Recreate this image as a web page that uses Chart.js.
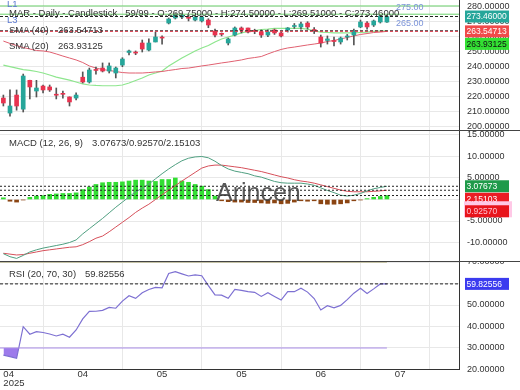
<!DOCTYPE html>
<html>
<head>
<meta charset="utf-8">
<script src="https://cdn.jsdelivr.net/npm/chart.js@4.4.1/dist/chart.umd.min.js"></script>
<style>
    html, body { margin: 0; padding: 0; background: #fff; }
    #wrap { position: relative; width: 520px; height: 390px; overflow: hidden; font-family: "Liberation Sans", Arial, sans-serif; }
    #wrap canvas { position: absolute; left: 0; }
    .txt { position: absolute; font-size: 9.5px; line-height: 11px; color: #333; white-space: pre; }
    .blue { color: #5a78d0; }
    .lvl { color: #7b93d8; font-size: 9px; }
    #watermark { position: absolute; left: 216px; top: 180px; font-size: 25px; line-height: 25px; color: rgba(60, 60, 60, 0.85); }
</style>
</head>
<body>
<div id="wrap">
    <canvas id="price-pane" width="520" height="130" style="top:0"></canvas>
    <canvas id="macd-pane" width="520" height="131" style="top:130px"></canvas>
    <canvas id="rsi-pane" width="520" height="129" style="top:261px"></canvas>

    <div class="txt blue" style="left:7px;top:-2px">L1</div>
    <div class="txt blue" style="left:7px;top:14px">L3</div>
    <div class="txt" style="left:9px;top:7px">MAR - Daily - Candlestick   59/99 - O:269.75000 - H:274.50000 - L:269.51000 - C:273.46000</div>
    <div class="txt" style="left:9px;top:24px">SMA (40)</div>
    <div class="txt" style="left:58px;top:24px">263.54713</div>
    <div class="txt" style="left:9px;top:40px">SMA (20)</div>
    <div class="txt" style="left:58px;top:40px">263.93125</div>
    <div class="txt lvl" style="left:396px;top:2px">275.00</div>
    <div class="txt lvl" style="left:396px;top:18px">265.00</div>
    <div class="txt" style="left:9px;top:137px">MACD (12, 26, 9)</div>
    <div class="txt" style="left:92px;top:137px">3.07673/0.92570/2.15103</div>
    <div class="txt" style="left:9px;top:268px">RSI (20, 70, 30)</div>
    <div class="txt" style="left:85px;top:268px">59.82556</div>
    <div id="watermark">Arincen</div>
</div>

<script>
// daily candles, one per trading day
const candleOpen = [219.1, 209.1, 221.1, 211.7, 230.9, 223.8, 227.1, 226.5, 221.5, 222.0,
    219.8, 219.1, 233.0, 229.8, 238.2, 239.1, 237.1, 235.8, 241.1, 249.5,
    249.3, 255.8, 251.1, 256.5, 259.3, 269.1, 272.5, 273.1, 272.6, 271.1,
    270.5, 271.1, 263.8, 261.9, 255.8, 261.1, 265.8, 265.8, 263.8, 263.3,
    261.1, 264.5, 262.5, 264.5, 266.8, 266.5, 269.1, 264.5, 259.8, 257.5,
    257.2, 256.5, 259.8, 261.1, 266.5, 269.1, 267.8, 269.8, 269.75];
const candleHigh = [221.1, 224.5, 224.5, 235.1, 231.0, 230.9, 227.8, 227.8, 225.8, 223.8,
    219.9, 222.5, 236.5, 239.1, 239.8, 242.5, 242.5, 239.8, 246.0, 251.1,
    250.5, 257.8, 258.5, 263.1, 260.5, 272.5, 275.5, 275.0, 274.5, 274.0,
    273.8, 272.0, 265.1, 262.5, 259.1, 266.5, 266.5, 265.8, 265.0, 264.5,
    264.5, 265.1, 263.1, 266.1, 268.8, 269.8, 270.0, 266.1, 261.1, 260.5,
    259.8, 259.8, 261.5, 265.1, 271.1, 270.1, 271.1, 274.5, 274.5];
const candleLow = [213.8, 207.1, 211.0, 209.8, 218.5, 219.8, 222.5, 223.5, 218.5, 219.0,
    213.8, 217.9, 229.1, 229.1, 235.1, 236.5, 235.8, 232.5, 240.0, 247.8,
    248.0, 249.8, 250.5, 256.5, 255.1, 268.5, 271.8, 272.0, 270.5, 270.5,
    269.8, 266.0, 259.8, 260.5, 254.5, 260.5, 262.5, 262.5, 262.0, 259.5,
    260.0, 261.5, 259.8, 263.1, 265.5, 265.1, 265.1, 262.1, 253.1, 255.1,
    253.8, 255.1, 257.8, 254.5, 266.0, 265.1, 266.8, 269.1, 269.51];
const candleClose = [215.8, 213.8, 213.8, 233.8, 226.5, 225.8, 224.5, 224.5, 221.0, 221.6,
    216.5, 221.1, 229.8, 237.8, 237.5, 237.1, 240.5, 239.1, 245.1, 250.5,
    249.1, 251.8, 255.8, 259.8, 259.1, 271.8, 274.5, 274.5, 272.3, 273.1,
    273.1, 267.8, 261.1, 261.6, 258.5, 265.8, 264.5, 263.1, 263.5, 261.1,
    263.1, 262.5, 260.5, 265.8, 267.1, 268.5, 266.5, 264.1, 255.8, 258.5,
    256.8, 259.1, 260.2, 263.8, 269.8, 266.5, 270.5, 273.8, 273.46];

const sma20 = [241.1, 240.1, 239.1, 238.1, 237.5, 236.8, 235.8, 234.5, 233.1, 232.1,
    231.1, 229.8, 228.5, 227.8, 227.5, 227.3, 227.3, 227.3, 227.8, 229.1,
    230.8, 232.5, 234.5, 235.8, 237.1, 240.5, 243.1, 245.8, 248.1, 250.5,
    252.5, 254.1, 256.5, 258.5, 259.8, 261.1, 262.5, 263.5, 264.1, 264.8,
    265.1, 265.5, 265.5, 265.5, 265.5, 265.5, 265.1, 263.8, 263.1, 262.8,
    262.5, 262.5, 262.5, 262.5, 262.8, 263.1, 263.5, 263.7, 263.93125];
const sma40 = [257.1, 255.5, 254.1, 252.8, 251.8, 250.8, 250.5, 249.8, 248.5, 247.1,
    245.8, 244.5, 242.8, 240.5, 239.1, 238.1, 237.5, 236.8, 236.1, 235.8,
    235.8, 235.8, 236.1, 236.5, 236.8, 237.5, 238.1, 238.8, 239.1, 239.8,
    240.5, 241.1, 241.8, 242.5, 243.1, 243.8, 244.5, 245.5, 246.1, 246.8,
    248.5, 250.1, 251.5, 252.5, 253.1, 253.8, 254.5, 255.1, 255.8, 256.8,
    257.5, 258.5, 259.5, 260.5, 261.5, 262.1, 262.8, 263.1, 263.54713];

const macdLine = [-12.6, -13.3, -13.7, -13.0, -12.2, -11.7, -11.3, -11.0, -10.7, -10.4,
    -10.0, -9.4, -8.0, -6.8, -5.6, -4.4, -3.1, -1.8, -0.6, 0.6,
    1.8, 2.6, 3.6, 4.8, 6.0, 7.1, 8.1, 9.0, 9.6, 9.9,
    10.0, 9.7, 8.9, 7.9, 7.1, 6.6, 6.3, 6.0, 5.5, 5.2,
    4.7, 4.2, 3.9, 3.8, 3.8, 3.8, 3.6, 3.3, 2.7, 2.1,
    1.6, 1.0, 0.8, 1.0, 1.4, 2.0, 2.5, 2.8, 3.07673];
const signalLine = [-12.5, -12.7, -12.9, -12.8, -12.5, -12.2, -11.9, -11.7, -11.5, -11.3,
    -11.1, -11.0, -10.5, -9.8, -9.0, -8.5, -7.5, -6.4, -5.3, -4.2,
    -3.0, -2.0, -1.1, 0.0, 1.1, 2.2, 3.2, 4.3, 5.3, 6.3,
    7.3, 7.8, 8.0, 8.0, 7.8, 7.6, 7.4, 7.1, 6.8, 6.5,
    6.1, 5.7, 5.3, 5.0, 4.6, 4.3, 4.1, 3.8, 3.4, 3.0,
    2.6, 2.2, 1.9, 1.8, 1.8, 1.8, 1.9, 2.0, 2.15103];
const macdHist = [0.4, -0.4, -0.6, -0.1, 0.5, 0.8, 0.9, 1.2, 1.3, 1.4,
    1.4, 1.55, 2.3, 2.9, 3.5, 3.9, 4.0, 4.0, 4.1, 4.3,
    4.5, 4.5, 4.3, 4.2, 4.65, 4.65, 5.0, 4.3, 4.0, 3.5,
    3.1, 2.3, 0.8, -0.3, -0.5, -0.6, -0.6, -0.7, -0.7, -0.8,
    -0.9, -0.8, -1.0, -0.9, -0.6, -0.3, -0.4, -0.3, -1.0, -1.1,
    -1.1, -1.0, -0.8, -0.3, -0.1, 0.2, 0.5, 0.7, 0.92570];

const rsiValues = [26.7, 26.0, 25.2, 39.9, 36.4, 37.6, 37.2, 36.5, 35.6, 36.4,
    35.0, 38.4, 43.5, 47.0, 47.1, 47.5, 48.9, 48.5, 51.8, 54.3,
    53.1, 55.7, 57.2, 58.2, 58.0, 64.7, 65.5, 64.5, 63.5, 64.0,
    63.6, 59.0, 54.7, 54.6, 53.1, 57.3, 56.8, 56.2, 55.9, 54.0,
    55.7, 54.0, 52.3, 56.2, 56.2, 57.8, 56.0, 53.0, 47.7, 49.7,
    48.7, 49.8, 52.5, 55.5, 57.8, 55.4, 57.5, 59.8, 59.82556];

// horizontal levels drawn on the price pane
const greenLevels = [280.5, 275.0];

// axis ticks
const priceTicks = [200, 210, 220, 230, 240, 250, 260, 270, 280];
const macdTicks = [-10, -5, 0, 5, 10, 15];
const rsiTicks = [20, 30, 40, 50, 60, 70];
const xTickPos = [0, 12, 24, 36, 48, 60];
const xTickLabels = [['04', '2025'], '04', '05', '05', '06', '07'];

const X_MIN = -0.51;
const X_MAX = 68.9;
const LAST = candleClose.length - 1;
const FAMILY = '"Liberation Sans", Arial, sans-serif';
const FONT = { family: FAMILY, size: 9 };

Chart.defaults.font.family = FAMILY;

function xy(arr) {
    return arr.map((v, i) => ({ x: i, y: v }));
}

function hLine(value, color, dash, toX) {
    return {
        type: 'line',
        data: [{ x: X_MIN, y: value }, { x: toX === undefined ? X_MAX : toX, y: value }],
        borderColor: color,
        borderWidth: 1,
        borderDash: dash || [],
        pointRadius: 0,
        order: 0
    };
}

// value boxes on the right axis, pushed down when they collide
function axisBoxes(items) {
    return {
        id: 'axisBoxes',
        afterDraw(chart) {
            const ctx = chart.ctx;
            const y = chart.scales.y;
            let bottom = -100;
            ctx.save();
            ctx.font = '8.5px ' + FAMILY;
            ctx.textBaseline = 'middle';
            items.forEach(it => {
                let top = y.getPixelForValue(it.value) - 6;
                if (top < bottom + 0.5) top = bottom + 0.5;
                bottom = top + 12;
                if (it.band) {
                    ctx.fillStyle = it.band;
                    ctx.fillRect(464, top - 4, 48, 16);
                }
                ctx.fillStyle = it.bg;
                ctx.fillRect(465, top, 44, 12);
                ctx.fillStyle = it.fg;
                ctx.fillText(it.text, 466.5, top + 6.5);
            });
            ctx.restore();
        }
    };
}

const separator = {
    id: 'separator',
    afterDraw(chart) {
        const ctx = chart.ctx;
        ctx.save();
        ctx.strokeStyle = '#444';
        ctx.lineWidth = 1;
        ctx.beginPath();
        ctx.moveTo(0, 0.5);
        ctx.lineTo(chart.width, 0.5);
        ctx.stroke();
        ctx.restore();
    }
};

function paneOptions(yMin, yMax, yTicks, showX) {
    return {
        responsive: false,
        animation: false,
        devicePixelRatio: 1,
        layout: { padding: 0 },
        plugins: { legend: { display: false }, tooltip: { enabled: false } },
        scales: {
            x: {
                type: 'linear',
                min: X_MIN,
                max: X_MAX,
                offset: false,
                afterBuildTicks: s => { s.ticks = xTickPos.concat([X_MAX]).map(v => ({ value: v })); },
                afterFit: s => { s.height = showX ? 21 : 0; s.paddingLeft = 0; s.paddingRight = 0; },
                grid: { color: '#e8e8e8', drawTicks: false },
                border: { display: showX, color: '#333' },
                ticks: {
                    display: showX,
                    autoSkip: false,
                    maxRotation: 0,
                    align: 'inner',
                    padding: 1.5,
                    color: '#333',
                    font: { family: FAMILY, size: 9.5, lineHeight: 0.9 },
                    callback: (v, i) => (i < xTickLabels.length ? xTickLabels[i] : '')
                }
            },
            y: {
                position: 'right',
                min: yMin,
                max: yMax,
                afterBuildTicks: s => { s.ticks = yTicks.map(v => ({ value: v })); },
                afterFit: s => { s.width = 61; s.paddingTop = 0; s.paddingBottom = 0; },
                grid: { color: '#e8e8e8', drawTicks: false },
                border: { color: '#333' },
                ticks: { padding: 8, color: '#333', font: FONT, callback: v => v.toFixed(5) }
            }
        }
    };
}

// price pane
const candleColors = candleClose.map((c, i) => (c >= candleOpen[i] ? '#26a69a' : '#e8334f'));
new Chart(document.getElementById('price-pane'), {
    type: 'bar',
    data: {
        datasets: [
            {
                type: 'line', data: xy(sma40), borderColor: '#e06070', borderWidth: 1,
                pointRadius: 0, order: 5
            },
            {
                type: 'line', data: xy(sma20), borderColor: '#8ee68e', borderWidth: 1.2,
                pointRadius: 0, order: 5
            },
            {
                data: candleOpen.map((o, i) => ({ x: i, y: [candleLow[i], candleHigh[i]] })),
                backgroundColor: '#555', barThickness: 1, grouped: false, order: 4
            },
            {
                data: candleOpen.map((o, i) => ({ x: i, y: [o, candleClose[i]] })),
                backgroundColor: candleColors, barThickness: 4, minBarLength: 1,
                grouped: false, order: 3
            },
            hLine(greenLevels[0], '#6ed36e'),
            hLine(greenLevels[1], '#6ed36e'),
            hLine(candleClose[LAST], '#222', [3, 2]),
            hLine(sma40[LAST], '#e04050', [3, 2]),
            hLine(sma20[LAST], '#222', [3, 2])
        ]
    },
    options: paneOptions(197.8, 284.47, priceTicks, false),
    plugins: [axisBoxes([
        { value: candleClose[LAST], text: '273.46000', bg: '#26a69a', fg: '#fff' },
        { value: sma40[LAST], text: '263.54713', bg: '#f04a4a', fg: '#fff' },
        { value: sma20[LAST], text: '263.93125', bg: '#33e033', fg: '#111' }
    ])]
});

// MACD pane
new Chart(document.getElementById('macd-pane'), {
    type: 'bar',
    data: {
        datasets: [
            {
                data: xy(macdHist),
                backgroundColor: macdHist.map(v => (v >= 0 ? '#33dd33' : '#8b4513')),
                barThickness: 4, grouped: false, order: 4
            },
            {
                type: 'line', data: xy(signalLine), borderColor: '#d6505a', borderWidth: 1,
                pointRadius: 0, order: 3
            },
            {
                type: 'line', data: xy(macdLine), borderColor: '#4f9f80', borderWidth: 1,
                pointRadius: 0, order: 2
            },
            hLine(macdLine[LAST], '#222', [2, 2]),
            hLine(signalLine[LAST], '#222', [2, 2]),
            hLine(macdHist[LAST], '#222', [2, 2])
        ]
    },
    options: paneOptions(-14.3, 16.16, macdTicks, false),
    plugins: [separator, axisBoxes([
        { value: macdLine[LAST], text: '3.07673', bg: '#1f9a4a', fg: '#fff' },
        { value: signalLine[LAST], text: '2.15103', bg: '#ec1c24', fg: '#fff' },
        { value: macdHist[LAST], text: '0.92570', bg: '#e8141c', fg: '#ffc0d0', band: '#ffc8e6' }
    ])]
});

// RSI pane
new Chart(document.getElementById('rsi-pane'), {
    type: 'bar',
    data: {
        datasets: [
            hLine(70, '#a09a62', [], LAST),
            hLine(30, '#a98de8', [], LAST),
            {
                type: 'line', data: xy(rsiValues), borderColor: '#7d70d2', borderWidth: 1.2,
                pointRadius: 0, order: 1,
                fill: { target: { value: 30 }, above: 'rgba(0,0,0,0)', below: 'rgba(140,100,232,0.85)' }
            },
            hLine(rsiValues[LAST], '#222', [3, 2])
        ]
    },
    options: paneOptions(20.23, 70.47, rsiTicks, true),
    plugins: [separator, axisBoxes([
        { value: rsiValues[LAST], text: '59.82556', bg: '#3b3bef', fg: '#fff' }
    ])]
});
</script>
</body>
</html>
